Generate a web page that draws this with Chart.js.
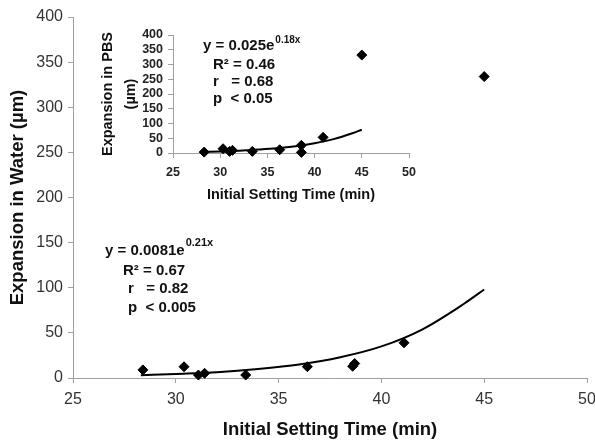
<!DOCTYPE html>
<html>
<head>
<meta charset="utf-8">
<script src="https://cdn.jsdelivr.net/npm/chart.js@4/dist/chart.umd.min.js"></script>
<style>
    body { margin: 0; background: #fff; }
    #wrap { position: relative; width: 595px; height: 442px; }
    #mainChart { position: absolute; left: 0; top: 0; }
    #insetChart { position: absolute; left: 90px; top: 20px; }
</style>
</head>
<body>
<div id="wrap">
    <canvas id="mainChart" width="595" height="442"></canvas>
    <canvas id="insetChart" width="330" height="190"></canvas>
</div>
<script>
// Expansion in water (main chart)
const waterTime = [28.4, 30.4, 31.1, 31.4, 33.4, 36.4, 38.6, 38.7, 41.1, 45];
const waterExpansion = [9, 12.5, 3.3, 5.2, 3.3, 12.5, 13, 16, 39, 334];

// Exponential trend line in water
const waterTrendTime = [28.3, 30, 32, 34, 36, 38, 40, 42, 44, 45];
const waterTrendValue = [3, 4.5, 6.5, 10, 15, 23, 35, 54, 82, 98];

// Expansion in PBS (inset chart)
const pbsTime = [28.3, 30.3, 31.0, 31.3, 33.4, 36.3, 38.6, 38.6, 40.9, 45];
const pbsExpansion = [3, 14.5, 5.5, 9, 5.5, 11, 26, 2, 53, 332];

// Exponential trend line in PBS
const pbsTrendTime = [28.3, 30, 32, 34, 36, 38, 40, 42, 44, 45];
const pbsTrendValue = [4, 5.5, 8, 11.5, 16, 23, 33, 47, 67, 79];

// Axis ranges and tick steps
const xRange = [25, 50];
const xStep = 5;
const yRange = [0, 400];
const yStep = 50;

// Fit statistics printed on the charts
const waterStats = ['y = 0.0081e', '0.21x', 'R\u00b2 = 0.67', 'r   = 0.82', 'p  < 0.005'];
const pbsStats = ['y = 0.025e', '0.18x', 'R\u00b2 = 0.46', 'r   = 0.68', 'p  < 0.05'];

const FONT = "'Liberation Sans', Arial, sans-serif";
const AXIS_COLOR = '#a0a0a0';

function toPoints(xs, ys) {
    return xs.map((x, i) => ({ x: x, y: ys[i] }));
}

/**
 * Plugin that writes the fit equation and statistics
 */
const statsPlugin = {
    id: 'stats',
    afterDraw(chart, args, opts) {
        const ctx = chart.ctx;
        const s = opts.lines;
        const p = opts.pos;
        ctx.save();
        ctx.fillStyle = '#111';
        ctx.textBaseline = 'middle';
        ctx.textAlign = 'left';
        ctx.font = 'bold ' + opts.size + 'px ' + FONT;
        ctx.fillText(s[0], p[0][0], p[0][1]);
        const w = ctx.measureText(s[0]).width;
        ctx.fillText(s[2], p[1][0], p[1][1]);
        ctx.fillText(s[3], p[2][0], p[2][1]);
        ctx.fillText(s[4], p[3][0], p[3][1]);
        ctx.font = 'bold ' + opts.supSize + 'px ' + FONT;
        ctx.fillText(s[1], p[0][0] + w + 1, p[0][1] - opts.supRise);
        ctx.restore();
    }
};

function axisOptions(cfg) {
    return {
        type: 'linear',
        min: cfg.range[0],
        max: cfg.range[1],
        grid: { drawOnChartArea: false, color: AXIS_COLOR, tickLength: 5, tickWidth: 1 },
        border: { color: AXIS_COLOR, width: 1 },
        ticks: {
            stepSize: cfg.step,
            autoSkip: false,
            maxRotation: 0,
            color: cfg.tickColor,
            padding: cfg.tickPad,
            font: { family: FONT, size: cfg.tickSize, weight: cfg.tickWeight }
        },
        title: {
            display: true,
            text: cfg.title,
            color: '#111',
            padding: cfg.titlePad,
            font: { family: FONT, size: cfg.titleSize, weight: 'bold', lineHeight: cfg.titleLine || 1.2 }
        },
        afterFit: cfg.fit
    };
}

function buildChart(canvasId, points, trend, cfg) {
    const ctx = document.getElementById(canvasId).getContext('2d');
    return new Chart(ctx, {
        type: 'scatter',
        data: {
            datasets: [
                {
                    data: trend,
                    showLine: true,
                    borderColor: '#000',
                    borderWidth: 2,
                    pointRadius: 0,
                    cubicInterpolationMode: 'monotone',
                    clip: false
                },
                {
                    data: points,
                    pointStyle: 'rectRot',
                    pointRadius: cfg.markerSize,
                    backgroundColor: '#000',
                    borderColor: '#000',
                    borderWidth: 1,
                    clip: false
                }
            ]
        },
        options: {
            responsive: false,
            animation: false,
            layout: { padding: cfg.padding },
            scales: {
                x: axisOptions(cfg.x),
                y: axisOptions(cfg.y)
            },
            plugins: {
                legend: { display: false },
                tooltip: { enabled: false },
                stats: cfg.stats
            }
        },
        plugins: [statsPlugin]
    });
}

// Main chart: expansion in water
buildChart('mainChart', toPoints(waterTime, waterExpansion), toPoints(waterTrendTime, waterTrendValue), {
    markerSize: 5,
    padding: { left: 0, right: 8, top: 17, bottom: 0 },
    x: {
        range: xRange, step: xStep, tickSize: 16, tickPad: 7, tickColor: '#333', tickWeight: 'normal',
        title: 'Initial Setting Time (min)', titleSize: 18.5, titlePad: { top: 0, bottom: 1 },
        fit: s => { s.height = 64; s.paddingLeft = 0; s.paddingRight = 0; }
    },
    y: {
        range: yRange, step: yStep, tickSize: 16, tickPad: 5, tickColor: '#333', tickWeight: 'normal',
        title: 'Expansion in Water (\u00b5m)', titleSize: 18.5, titlePad: { top: 7, bottom: 0 },
        fit: s => { s.width = 73; s.paddingTop = 0; s.paddingBottom = 0; }
    },
    stats: {
        lines: waterStats, size: 15, supSize: 11, supRise: 8,
        pos: [[105, 251], [123, 271], [128, 289], [128, 308]]
    }
});

// Inset chart: expansion in PBS
buildChart('insetChart', toPoints(pbsTime, pbsExpansion), toPoints(pbsTrendTime, pbsTrendValue), {
    markerSize: 5,
    padding: { left: 0, right: 11, top: 15, bottom: 0 },
    x: {
        range: xRange, step: xStep, tickSize: 12.5, tickPad: 7, tickColor: '#222', tickWeight: 'bold',
        title: 'Initial Setting Time (min)', titleSize: 14.5, titlePad: { top: 0, bottom: 6 },
        fit: s => { s.height = 57; s.paddingLeft = 0; s.paddingRight = 0; }
    },
    y: {
        range: yRange, step: yStep, tickSize: 12.5, tickPad: 5, tickColor: '#222', tickWeight: 'bold',
        title: ['Expansion in PBS', '(\u00b5m)'], titleSize: 14.5, titleLine: 1.6, titlePad: { top: 6.5, bottom: 0 },
        fit: s => { s.width = 83; s.paddingTop = 0; s.paddingBottom = 0; }
    },
    stats: {
        lines: pbsStats, size: 15, supSize: 10, supRise: 6,
        pos: [[113, 26], [123, 45], [123, 62], [123, 79]]
    }
});
</script>
</body>
</html>
